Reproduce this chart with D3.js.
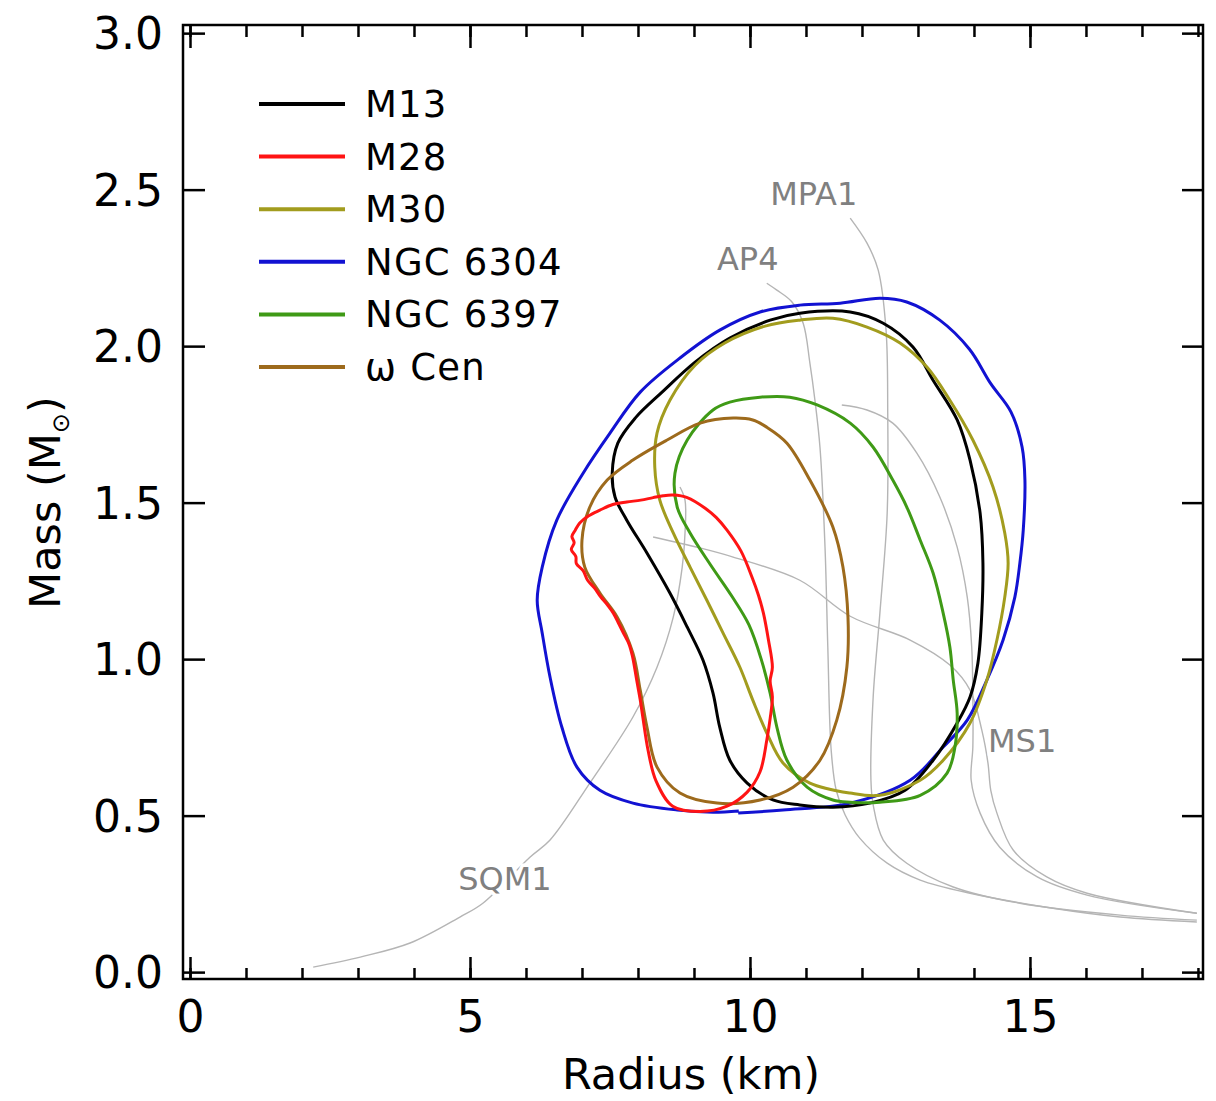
<!DOCTYPE html>
<html>
<head>
<meta charset="utf-8">
<script src="https://cdn.jsdelivr.net/npm/d3@7"></script>
<style>
  html, body { margin: 0; padding: 0; background: #fff; }
  svg { display: block; font-family: "DejaVu Sans", Verdana, sans-serif; }
</style>
</head>
<body>
<svg id="chart" width="1216" height="1101"></svg>
<script>
// ---------------------------------------------------------------------------
// Mass-radius constraints for globular cluster neutron stars, with a few EOS
// curves drawn underneath. Values are [radius km, mass Msun], read off the
// original figure.
// ---------------------------------------------------------------------------

const ngc6304 = [
  [9.79, 0.508], [10.59, 0.518], [11.79, 0.540], [12.86, 0.613], [13.45, 0.719],
  [13.88, 0.805], [14.23, 0.933], [14.52, 1.061], [14.73, 1.198], [14.82, 1.307],
  [14.88, 1.412], [14.91, 1.572], [14.86, 1.677], [14.66, 1.790], [14.30, 1.880],
  [13.92, 1.990], [13.39, 2.083], [12.80, 2.141], [12.32, 2.153], [11.61, 2.137],
  [10.89, 2.131], [10.18, 2.109], [9.46, 2.051], [8.75, 1.962], [8.04, 1.853],
  [7.50, 1.722], [7.02, 1.594], [6.55, 1.444], [6.29, 1.294], [6.20, 1.188],
  [6.29, 1.083], [6.43, 0.942], [6.64, 0.783], [6.91, 0.655], [7.32, 0.581],
  [7.91, 0.540], [8.70, 0.518], [9.34, 0.511], [9.80, 0.515]
];

const m13 = [
  [11.48, 0.527], [12.14, 0.540], [12.77, 0.581], [13.27, 0.677], [13.70, 0.796],
  [13.93, 0.879], [14.07, 0.987], [14.14, 1.147], [14.16, 1.307], [14.11, 1.466],
  [13.93, 1.636], [13.70, 1.764], [13.27, 1.891], [12.91, 1.997], [12.38, 2.073],
  [11.79, 2.109], [10.89, 2.105], [10.36, 2.083], [9.64, 2.026], [9.02, 1.949],
  [8.43, 1.853], [7.95, 1.770], [7.64, 1.690], [7.54, 1.594], [7.59, 1.518],
  [7.80, 1.444], [8.16, 1.339], [8.57, 1.211], [8.88, 1.102], [9.16, 0.997],
  [9.34, 0.891], [9.46, 0.783], [9.64, 0.677], [9.95, 0.604], [10.41, 0.550],
  [10.89, 0.534]
];

const m30 = [
  [11.79, 0.572], [12.32, 0.565], [13.04, 0.613], [13.45, 0.677], [13.93, 0.796],
  [14.23, 0.933], [14.41, 1.061], [14.55, 1.198], [14.61, 1.307], [14.55, 1.403],
  [14.34, 1.550], [13.98, 1.700], [13.57, 1.827], [13.16, 1.933], [12.68, 2.010],
  [12.09, 2.061], [11.48, 2.089], [10.89, 2.083], [10.27, 2.064], [9.55, 2.010],
  [9.02, 1.939], [8.57, 1.827], [8.34, 1.722], [8.30, 1.613], [8.39, 1.508],
  [8.63, 1.403], [8.93, 1.294], [9.23, 1.188], [9.52, 1.083], [9.82, 0.974],
  [10.05, 0.869], [10.30, 0.764], [10.59, 0.668], [11.07, 0.604]
];

const ngc6397 = [
  [11.79, 0.543], [12.32, 0.543], [13.04, 0.565], [13.52, 0.636], [13.66, 0.719],
  [13.70, 0.827], [13.63, 0.933], [13.57, 1.038], [13.45, 1.147], [13.27, 1.275],
  [13.04, 1.380], [12.80, 1.486], [12.55, 1.572], [12.20, 1.677], [11.79, 1.754],
  [11.20, 1.812], [10.71, 1.837], [10.18, 1.837], [9.64, 1.821], [9.34, 1.796],
  [8.88, 1.700], [8.66, 1.594], [8.70, 1.486], [8.93, 1.403], [9.30, 1.300],
  [9.68, 1.200], [9.98, 1.110], [10.20, 1.000], [10.36, 0.891], [10.48, 0.783],
  [10.66, 0.677], [11.02, 0.591], [11.48, 0.550]
];

const omegaCen = [
  [10.05, 1.764], [9.70, 1.770], [9.11, 1.754], [8.52, 1.700], [7.91, 1.636],
  [7.45, 1.572], [7.14, 1.486], [7.00, 1.380], [7.05, 1.294], [7.32, 1.211],
  [7.63, 1.134], [7.91, 1.019], [8.04, 0.901], [8.16, 0.783], [8.34, 0.655],
  [8.75, 0.572], [9.41, 0.540], [10.18, 0.550], [10.77, 0.591], [11.25, 0.677],
  [11.55, 0.805], [11.73, 0.974], [11.75, 1.134], [11.66, 1.294], [11.48, 1.422],
  [11.07, 1.572], [10.66, 1.690], [10.30, 1.741]
];

const m28 = [
  [8.63, 1.524], [8.45, 1.522], [8.27, 1.516], [8.05, 1.508], [7.80, 1.502],
  [7.55, 1.494], [7.32, 1.476], [7.12, 1.458], [6.96, 1.435], [6.88, 1.412],
  [6.82, 1.392], [6.86, 1.372], [6.81, 1.350], [6.89, 1.328], [6.90, 1.305],
  [7.02, 1.283], [7.10, 1.252], [7.22, 1.228], [7.33, 1.200], [7.46, 1.172],
  [7.56, 1.147], [7.66, 1.112], [7.74, 1.083], [7.84, 1.048], [7.90, 1.010],
  [7.98, 0.930], [8.04, 0.870], [8.09, 0.810], [8.18, 0.709], [8.32, 0.612],
  [8.62, 0.530], [9.11, 0.513], [9.59, 0.530], [9.95, 0.575], [10.18, 0.640],
  [10.30, 0.741], [10.36, 0.810], [10.40, 0.880], [10.36, 0.930], [10.40, 0.974],
  [10.33, 1.061], [10.24, 1.147], [10.15, 1.205], [10.04, 1.260], [9.84, 1.345],
  [9.59, 1.412], [9.40, 1.452], [9.20, 1.482], [8.88, 1.516]
];

// EOS curves (grey)
const sqm1 = [
  [2.20, 0.016], [3.04, 0.048], [3.93, 0.093], [4.82, 0.176], [5.23, 0.220],
  [6.07, 0.367], [6.43, 0.422], [7.14, 0.604], [7.91, 0.815], [8.34, 0.974],
  [8.63, 1.134], [8.79, 1.294], [8.84, 1.403], [8.84, 1.508], [8.75, 1.550]
];
const ms1 = [
  [8.27, 1.390], [9.11, 1.355], [9.70, 1.326], [10.89, 1.252], [11.79, 1.137],
  [12.86, 1.061], [13.57, 0.981], [13.93, 0.901], [14.14, 0.773], [14.25, 0.668],
  [14.30, 0.581], [14.41, 0.508], [14.70, 0.390], [15.30, 0.304], [16.02, 0.252],
  [17.98, 0.188]
];
const eosC = [
  [11.64, 1.812], [12.09, 1.796], [12.55, 1.754], [12.98, 1.658], [13.39, 1.518],
  [13.70, 1.358], [13.88, 1.198], [13.96, 1.038], [13.98, 0.879], [13.98, 0.719],
  [13.95, 0.613], [14.11, 0.508], [14.46, 0.399], [15.13, 0.304], [16.02, 0.246],
  [17.98, 0.188]
];
const ap4 = [
  [10.30, 2.201], [10.48, 2.179], [10.75, 2.141], [10.95, 2.073], [11.07, 1.946],
  [11.16, 1.827], [11.25, 1.677], [11.34, 1.358], [11.39, 1.038], [11.45, 0.709],
  [11.54, 0.581], [11.70, 0.502], [11.96, 0.428], [12.45, 0.348], [13.04, 0.294],
  [13.93, 0.252], [15.41, 0.204], [16.61, 0.176], [17.98, 0.160]
];
const mpa1 = [
  [11.79, 2.409], [12.09, 2.329], [12.29, 2.243], [12.43, 2.051], [12.46, 1.786],
  [12.45, 1.466], [12.32, 1.147], [12.20, 0.879], [12.16, 0.613], [12.20, 0.534],
  [12.38, 0.422], [12.80, 0.348], [13.63, 0.272], [14.82, 0.220], [16.61, 0.182],
  [17.98, 0.166]
];

const eosCurves = [sqm1, ms1, eosC, ap4, mpa1];
const eosNames = ["MPA1", "AP4", "SQM1", "MS1"];
const eosLabelAt = [[10.36, 2.451], [9.41, 2.243], [4.79, 0.262], [14.25, 0.703]];

const seriesNames = ["M13", "M28", "M30", "NGC 6304", "NGC 6397", "\u03c9 Cen"];
const seriesData = [m13, m28, m30, ngc6304, ngc6397, omegaCen];
const seriesColors = ["#000000", "#ff1414", "#a29c1e", "#1212d2", "#3f9a16", "#9d6a1c"];
const drawOrder = [3, 0, 2, 4, 5, 1];   // NGC 6304 at the back, M28 on top

const xMajor = [0, 5, 10, 15];
const xMinor = d3.range(0, 19, 1);
const yMajor = [0, 0.5, 1.0, 1.5, 2.0, 2.5, 3.0];

// ---------------------------------------------------------------------------
const svg = d3.select("#chart");
const x = d3.scaleLinear().domain([-0.125, 18.09]).range([183, 1203]);
const y = d3.scaleLinear().domain([-0.022, 3.026]).range([979, 25]);
const [x0, x1] = x.range();
const [y0, y1] = y.range();

const line = d3.line().x(d => x(d[0])).y(d => y(d[1]));

// grey equation-of-state curves
svg.append("g").selectAll("path")
  .data(eosCurves).join("path")
  .attr("d", d => line.curve(d3.curveCatmullRom)(d))
  .attr("fill", "none")
  .attr("stroke", "#b5b5b5")
  .attr("stroke-width", 1.4);

svg.append("g").selectAll("text")
  .data(eosNames).join("text")
  .attr("x", (d, i) => x(eosLabelAt[i][0]))
  .attr("y", (d, i) => y(eosLabelAt[i][1]))
  .attr("font-size", 32)
  .attr("fill", "#808080")
  .attr("stroke", "#fff")
  .attr("stroke-width", 7)
  .attr("paint-order", "stroke")
  .text(d => d);

// contours
svg.append("g").selectAll("path")
  .data(drawOrder).join("path")
  .attr("d", i => i === 3
    ? line.curve(d3.curveCatmullRom)(seriesData[i])
    : line.curve(d3.curveCatmullRomClosed)(seriesData[i]))
  .attr("fill", "none")
  .attr("stroke", i => seriesColors[i])
  .attr("stroke-width", 3)
  .attr("stroke-linejoin", "round");

// axes: inward ticks on all four sides
function clean(g, size) {
  g.select(".domain").remove();
  g.selectAll(".tick line").attr("stroke", "#000").attr("stroke-width", 2.5);
  g.selectAll(".tick text").attr("fill", "#000").attr("font-size", size)
    .attr("font-family", "DejaVu Sans, Verdana, sans-serif");
}

svg.append("g").attr("transform", `translate(0,${y0})`)
  .call(d3.axisBottom(x).tickValues(xMinor).tickSize(-11).tickFormat(""))
  .call(g => clean(g, 0));
svg.append("g").attr("transform", `translate(0,${y0})`)
  .call(d3.axisBottom(x).tickValues(xMajor).tickSize(-22).tickPadding(22).tickFormat(d3.format("d")))
  .call(g => clean(g, 44));

svg.append("g").attr("transform", `translate(0,${y1})`)
  .call(d3.axisTop(x).tickValues(xMinor).tickSize(-12).tickFormat(""))
  .call(g => clean(g, 0));
svg.append("g").attr("transform", `translate(0,${y1})`)
  .call(d3.axisTop(x).tickValues(xMajor).tickSize(-23).tickFormat(""))
  .call(g => clean(g, 0));

svg.append("g").attr("transform", `translate(${x0},0)`)
  .call(d3.axisLeft(y).tickValues(yMajor).tickSize(-22).tickPadding(20).tickFormat(d3.format(".1f")))
  .call(g => clean(g, 44))
  .call(g => g.selectAll(".tick text").attr("dy", "0.36em"));

svg.append("g").attr("transform", `translate(${x1},0)`)
  .call(d3.axisRight(y).tickValues(yMajor).tickSize(-21).tickFormat(""))
  .call(g => clean(g, 0));

// frame
svg.append("rect")
  .attr("x", x0).attr("y", y1)
  .attr("width", x1 - x0).attr("height", y0 - y1)
  .attr("fill", "none").attr("stroke", "#000").attr("stroke-width", 2.5);

// axis titles
svg.append("text")
  .attr("x", (x(0) + x(18)) / 2 - 3)
  .attr("y", 1089)
  .attr("text-anchor", "middle")
  .attr("font-size", 43)
  .text("Radius (km)");

const yt = svg.append("text")
  .attr("transform", `translate(60,${(y(0) + y(3)) / 2}) rotate(-90)`)
  .attr("text-anchor", "middle")
  .attr("font-size", 43);
yt.append("tspan").text("Mass (M");
yt.append("tspan").attr("font-size", 24).attr("dy", 9).text("\u2299");
yt.append("tspan").attr("dy", -9).text(")");

// legend
const leg = svg.append("g").attr("transform", "translate(259,104)");
const rows = leg.selectAll("g").data(seriesNames).join("g")
  .attr("transform", (d, i) => `translate(0,${i * 52.6})`);
rows.append("line")
  .attr("x1", 0).attr("x2", 86)
  .attr("stroke", (d, i) => seriesColors[i])
  .attr("stroke-width", 4);
rows.append("text")
  .attr("x", 106).attr("y", 13)
  .attr("font-size", 37)
  .attr("letter-spacing", 1.2)
  .text(d => d);
</script>
</body>
</html>
